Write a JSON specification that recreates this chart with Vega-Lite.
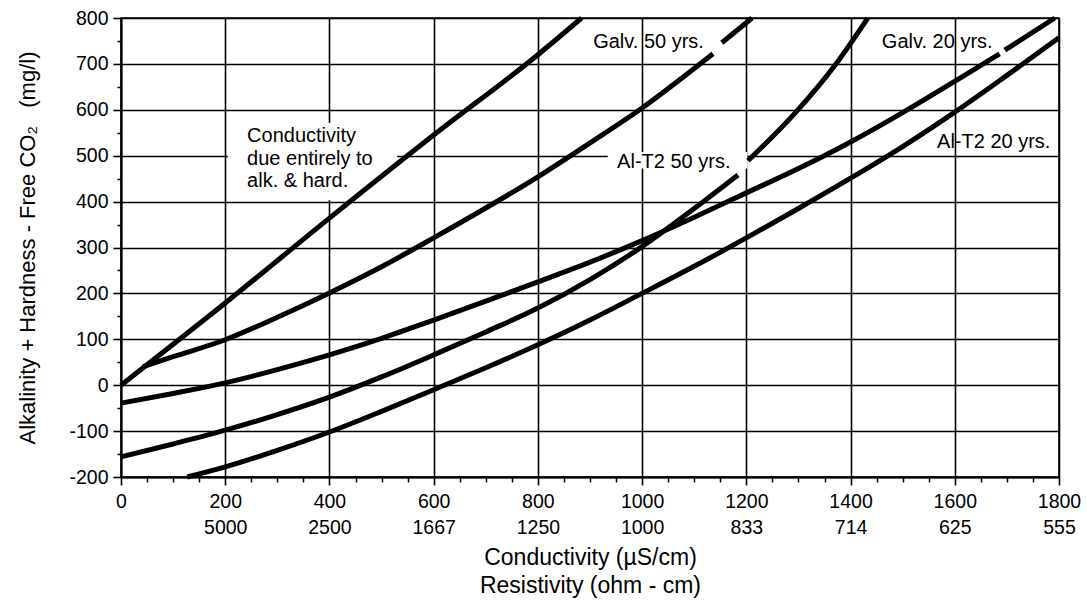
{
  "$schema": "https://vega.github.io/schema/vega-lite/v6.json",
  "width": 938,
  "height": 459,
  "autosize": "none",
  "padding": {"left": 121, "top": 18, "right": 28, "bottom": 126},
  "background": "white",
  "config": {
    "font": "Liberation Sans",
    "view": {"stroke": "black", "strokeWidth": 1.6}
  },
  "datasets": {
    "curves": [
      {"seg": "A1", "cond": 0, "value": 0},
      {"seg": "A1", "cond": 200, "value": 179},
      {"seg": "A1", "cond": 400, "value": 364},
      {"seg": "A1", "cond": 600, "value": 545},
      {"seg": "A1", "cond": 800, "value": 720},
      {"seg": "A1", "cond": 884, "value": 800},
      {"seg": "B1", "cond": 42, "value": 40},
      {"seg": "B1", "cond": 100, "value": 62},
      {"seg": "B1", "cond": 200, "value": 99},
      {"seg": "B1", "cond": 300, "value": 148},
      {"seg": "B1", "cond": 400, "value": 201},
      {"seg": "B1", "cond": 500, "value": 258},
      {"seg": "B1", "cond": 600, "value": 321},
      {"seg": "B1", "cond": 700, "value": 386},
      {"seg": "B1", "cond": 800, "value": 454},
      {"seg": "B1", "cond": 900, "value": 528},
      {"seg": "B1", "cond": 1000, "value": 604},
      {"seg": "B1", "cond": 1100, "value": 690},
      {"seg": "B1", "cond": 1136, "value": 722},
      {"seg": "B2", "cond": 1153, "value": 746},
      {"seg": "B2", "cond": 1211, "value": 800},
      {"seg": "C1", "cond": 0, "value": -39},
      {"seg": "C1", "cond": 100, "value": -18},
      {"seg": "C1", "cond": 200, "value": 5},
      {"seg": "C1", "cond": 300, "value": 34},
      {"seg": "C1", "cond": 400, "value": 66},
      {"seg": "C1", "cond": 500, "value": 102},
      {"seg": "C1", "cond": 600, "value": 142},
      {"seg": "C1", "cond": 700, "value": 183},
      {"seg": "C1", "cond": 800, "value": 225},
      {"seg": "C1", "cond": 900, "value": 268},
      {"seg": "C1", "cond": 1000, "value": 315},
      {"seg": "C1", "cond": 1100, "value": 366},
      {"seg": "C1", "cond": 1200, "value": 419},
      {"seg": "C1", "cond": 1300, "value": 472},
      {"seg": "C1", "cond": 1400, "value": 530},
      {"seg": "C1", "cond": 1500, "value": 594},
      {"seg": "C1", "cond": 1600, "value": 662},
      {"seg": "C1", "cond": 1686, "value": 722},
      {"seg": "C2", "cond": 1696, "value": 730},
      {"seg": "C2", "cond": 1792, "value": 800},
      {"seg": "D1", "cond": 0, "value": -156},
      {"seg": "D1", "cond": 100, "value": -128},
      {"seg": "D1", "cond": 200, "value": -98},
      {"seg": "D1", "cond": 300, "value": -64},
      {"seg": "D1", "cond": 400, "value": -26},
      {"seg": "D1", "cond": 500, "value": 18},
      {"seg": "D1", "cond": 600, "value": 66},
      {"seg": "D1", "cond": 700, "value": 116},
      {"seg": "D1", "cond": 800, "value": 168},
      {"seg": "D1", "cond": 900, "value": 230},
      {"seg": "D1", "cond": 1000, "value": 302},
      {"seg": "D1", "cond": 1100, "value": 385},
      {"seg": "D1", "cond": 1184, "value": 458},
      {"seg": "D2", "cond": 1203, "value": 489},
      {"seg": "D2", "cond": 1299, "value": 600},
      {"seg": "D2", "cond": 1372, "value": 700},
      {"seg": "D2", "cond": 1433, "value": 800},
      {"seg": "E1", "cond": 127, "value": -200},
      {"seg": "E1", "cond": 200, "value": -178},
      {"seg": "E1", "cond": 300, "value": -142},
      {"seg": "E1", "cond": 400, "value": -102},
      {"seg": "E1", "cond": 500, "value": -57},
      {"seg": "E1", "cond": 600, "value": -10},
      {"seg": "E1", "cond": 700, "value": 38},
      {"seg": "E1", "cond": 800, "value": 88},
      {"seg": "E1", "cond": 900, "value": 142},
      {"seg": "E1", "cond": 1000, "value": 200},
      {"seg": "E1", "cond": 1100, "value": 259},
      {"seg": "E1", "cond": 1200, "value": 321},
      {"seg": "E1", "cond": 1300, "value": 385},
      {"seg": "E1", "cond": 1400, "value": 451},
      {"seg": "E1", "cond": 1500, "value": 520},
      {"seg": "E1", "cond": 1600, "value": 595},
      {"seg": "E1", "cond": 1700, "value": 675},
      {"seg": "E1", "cond": 1800, "value": 757}
    ],
    "labels": [
      {"x": 906, "y": 748, "text": "Galv. 50 yrs."},
      {"x": 952, "y": 486, "text": "Al-T2 50 yrs."},
      {"x": 1460, "y": 748, "text": "Galv. 20 yrs."},
      {"x": 1566, "y": 530, "text": "Al-T2 20 yrs."},
      {"x": 242, "y": 542, "text": "Conductivity"},
      {"x": 242, "y": 492, "text": "due entirely to"},
      {"x": 242, "y": 444, "text": "alk. & hard."}
    ],
    "masks": [
      {"x": 205, "x2": 530, "y": 403, "y2": 571},
      {"x": 934, "x2": 1202, "y": 472, "y2": 508}
    ]
  },
  "resolve": {"axis": {"x": "independent", "y": "independent"}},
  "layer": [
    {
      "data": {"name": "masks"},
      "mark": {"type": "rect", "fill": "white", "stroke": null},
      "encoding": {
        "x": {
          "field": "x", "type": "quantitative",
          "scale": {"domain": [0, 1800], "nice": false, "zero": false},
          "axis": {
            "orient": "bottom", "title": null, "labels": false, "grid": false, "domain": false,
            "ticks": true, "tickSize": 5, "tickWidth": 1.5, "tickColor": "black",
            "values": [50, 100, 150, 250, 300, 350, 450, 500, 550, 650, 700, 750, 850, 900, 950, 1050, 1100, 1150, 1250, 1300, 1350, 1450, 1500, 1550, 1650, 1700, 1750]
          }
        },
        "x2": {"field": "x2"},
        "y": {
          "field": "y", "type": "quantitative",
          "scale": {"domain": [-200, 800], "nice": false, "zero": false},
          "axis": {
            "orient": "left", "title": null, "labels": false, "grid": false, "domain": false,
            "ticks": true, "tickSize": 4, "tickWidth": 1.5, "tickColor": "black",
            "values": [-150, -50, 50, 150, 250, 350, 450, 550, 650, 750]
          }
        },
        "y2": {"field": "y2"}
      }
    },
    {
      "data": {"name": "curves"},
      "mark": {"type": "line", "color": "black", "strokeWidth": 5, "interpolate": "monotone", "strokeCap": "butt"},
      "encoding": {
        "x": {
          "field": "cond", "type": "quantitative",
          "scale": {"domain": [0, 1800], "nice": false, "zero": false},
          "axis": {
            "orient": "bottom",
            "values": [0, 200, 400, 600, 800, 1000, 1200, 1400, 1600, 1800],
            "grid": true, "gridColor": "black", "gridWidth": 1.6, "gridOpacity": 1,
            "domainColor": "black", "domainWidth": 2,
            "tickColor": "black", "tickWidth": 1.6, "tickSize": 8,
            "labelFont": "Liberation Sans", "labelFontSize": 19.5, "labelColor": "black",
            "labelPadding": 7, "labelLineHeight": 26, "labelFlush": false, "labelOverlap": false,
            "labelExpr": "['' + datum.value, ['', '5000', '2500', '1667', '1250', '1000', '833', '714', '625', '555'][datum.value / 200]]",
            "title": ["Conductivity (µS/cm)", "Resistivity (ohm - cm)"],
            "titleFont": "Liberation Sans", "titleFontSize": 23, "titleFontWeight": "normal",
            "titleColor": "black", "titleLineHeight": 28, "titlePadding": 10
          }
        },
        "y": {
          "field": "value", "type": "quantitative",
          "scale": {"domain": [-200, 800], "nice": false, "zero": false},
          "axis": {
            "orient": "left",
            "values": [-200, -100, 0, 100, 200, 300, 400, 500, 600, 700, 800],
            "grid": true, "gridColor": "black", "gridWidth": 1.6, "gridOpacity": 1,
            "domainColor": "black", "domainWidth": 2,
            "tickColor": "black", "tickWidth": 1.6, "tickSize": 8,
            "labelFont": "Liberation Sans", "labelFontSize": 19.5, "labelColor": "black",
            "labelPadding": 5, "labelFlush": false, "labelOverlap": false,
            "labelExpr": "'' + datum.value",
            "title": "Alkalinity + Hardness - Free CO₂\u00a0\u00a0\u00a0(mg/l)",
            "titleFont": "Liberation Sans", "titleFontSize": 22, "titleFontWeight": "normal",
            "titleColor": "black", "titlePadding": 29
          }
        },
        "detail": {"field": "seg", "type": "nominal"}
      }
    },
    {
      "data": {"name": "labels"},
      "mark": {"type": "text", "align": "left", "baseline": "middle", "font": "Liberation Sans", "fontSize": 20, "color": "black"},
      "encoding": {
        "x": {"field": "x", "type": "quantitative", "scale": {"domain": [0, 1800], "nice": false, "zero": false}, "axis": null},
        "y": {"field": "y", "type": "quantitative", "scale": {"domain": [-200, 800], "nice": false, "zero": false}, "axis": null},
        "text": {"field": "text", "type": "nominal"}
      }
    }
  ]
}
